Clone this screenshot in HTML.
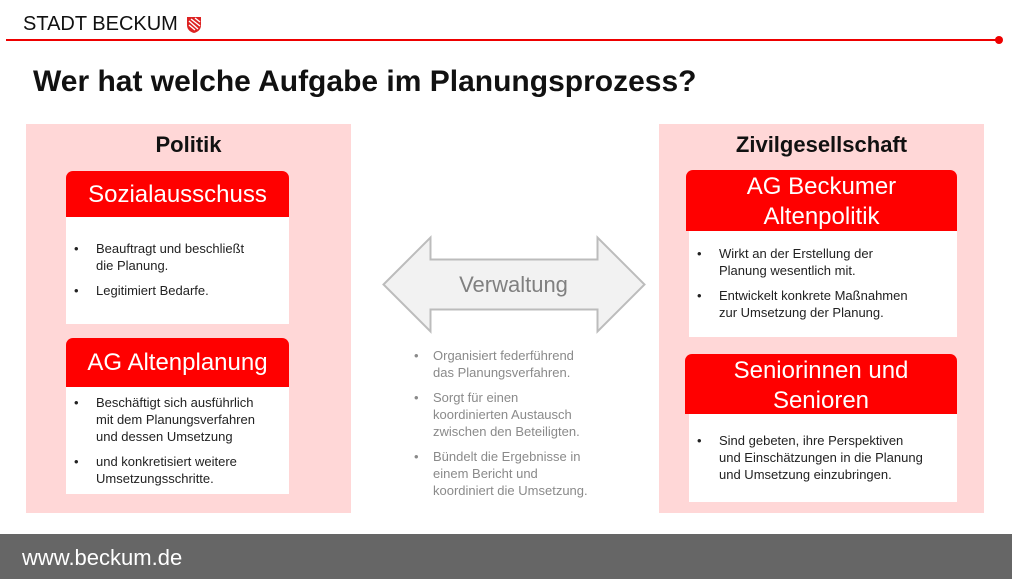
<!DOCTYPE html>
<html><head><meta charset="utf-8"><style>
*{margin:0;padding:0;box-sizing:border-box}
body{width:1012px;height:579px;position:relative;background:#fff;font-family:"Liberation Sans",sans-serif;overflow:hidden}
.a{position:absolute}
.panel{background:#ffd7d7}
.red{background:#f00;color:#fff;text-align:center;border-radius:7px 7px 0 0;font-size:24px;line-height:30px}
.wh{background:#fff}
ul{list-style:none;font-size:13px;color:#222;line-height:17px}
li{position:relative;padding-left:30px;margin-bottom:8px;white-space:nowrap}
li:before{content:"•";position:absolute;left:8px}
.g li{color:#8a8a8a;padding-left:20px}
.g li:before{left:1px}
h2{font-size:22px;font-weight:bold;text-align:center;color:#111}
</style></head><body>
<div class="a" style="left:23px;top:13px;font-size:20px;color:#111">STADT BECKUM</div>
<svg class="a" style="left:186px;top:16px" width="16" height="18" viewBox="0 0 16 18"><path d="M1 1H15V9Q15 15 8 17Q1 15 1 9Z" fill="#d22"/><path d="M3 5L12 13M3 9L9 14M5 3L14 10M9 2L14 6" stroke="#fff" stroke-width="1.4"/></svg>
<div class="a" style="left:6px;top:39px;width:994px;height:2px;background:#e00"></div>
<div class="a" style="left:995px;top:36px;width:8px;height:8px;border-radius:50%;background:#e00"></div>
<div class="a" style="left:33px;top:65px;font-size:30px;font-weight:bold;color:#111">Wer hat welche Aufgabe im Planungsprozess?</div>

<div class="a panel" style="left:26px;top:124px;width:325px;height:389px"></div>
<h2 class="a" style="left:26px;top:132px;width:325px">Politik</h2>
<div class="a red" style="left:66px;top:171px;width:223px;height:46px;padding-top:9px">Sozialausschuss</div>
<div class="a wh" style="left:66px;top:217px;width:223px;height:107px"><ul style="margin-top:23px"><li>Beauftragt und beschließt<br>die Planung.</li><li>Legitimiert Bedarfe.</li></ul></div>
<div class="a red" style="left:66px;top:338px;width:223px;height:49px;padding-top:10px">AG Altenplanung</div>
<div class="a wh" style="left:66px;top:387px;width:223px;height:107px"><ul style="margin-top:7px"><li>Beschäftigt sich ausführlich<br>mit dem Planungsverfahren<br>und dessen Umsetzung</li><li>und konkretisiert weitere<br>Umsetzungsschritte.</li></ul></div>

<div class="a panel" style="left:659px;top:124px;width:325px;height:389px"></div>
<h2 class="a" style="left:659px;top:132px;width:325px">Zivilgesellschaft</h2>
<div class="a red" style="left:686px;top:170px;width:271px;height:61px;padding-top:2px">AG Beckumer<br>Altenpolitik</div>
<div class="a wh" style="left:689px;top:231px;width:268px;height:106px"><ul style="margin-top:14px"><li>Wirkt an der Erstellung der<br>Planung wesentlich mit.</li><li>Entwickelt konkrete Maßnahmen<br>zur Umsetzung der Planung.</li></ul></div>
<div class="a red" style="left:685px;top:354px;width:272px;height:60px;padding-top:2px">Seniorinnen und<br>Senioren</div>
<div class="a wh" style="left:689px;top:414px;width:268px;height:88px"><ul style="margin-top:18px"><li>Sind gebeten, ihre Perspektiven<br>und Einschätzungen in die Planung<br>und Umsetzung einzubringen.</li></ul></div>

<svg class="a" style="left:380px;top:234px" width="270" height="102" viewBox="380 234 270 102"><path d="M383.5 284.5L430.5 237.5V259.5H597.5V237.5L644.5 284.5L597.5 331.5V309.5H430.5V331.5Z" fill="#f2f2f2" stroke="#bcbcbc" stroke-width="2"/></svg>
<div class="a" style="left:430px;top:272px;width:167px;text-align:center;font-size:22px;color:#808080">Verwaltung</div>
<ul class="a g" style="left:413px;top:347px;width:215px"><li>Organisiert federführend<br>das Planungsverfahren.</li><li>Sorgt für einen<br>koordinierten Austausch<br>zwischen den Beteiligten.</li><li>Bündelt die Ergebnisse in<br>einem Bericht und<br>koordiniert die Umsetzung.</li></ul>

<div class="a" style="left:0;top:534px;width:1012px;height:45px;background:#666"></div>
<div class="a" style="left:22px;top:545px;font-size:22px;color:#fff">www.beckum.de</div>
</body></html>
